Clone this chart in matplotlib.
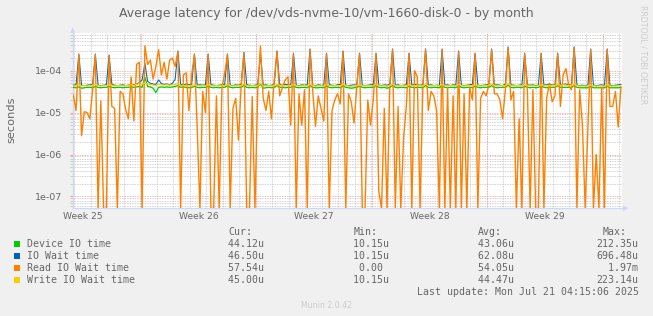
import matplotlib
matplotlib.use("Agg")
import matplotlib.pyplot as plt
from matplotlib.patches import Rectangle
import numpy as np

# munin monthly view: one sample every 4 hours, values in microseconds
STEP_DAYS = 4 / 24

read_io_us = [
    26, 11.2, 240, 2.8, 10.5, 10, 7.1, 35, 240, 0,
    19, 0, 0, 224, 14, 12.6, 0, 32, 28, 12,
    7.1, 71, 6.3, 141, 158, 0, 389, 141, 178, 63,
    126, 316, 79, 158, 63, 178, 200, 126, 282, 0,
    79, 89, 11.2, 79, 240, 4.5, 0, 32, 10, 240,
    0, 0, 25, 0, 38, 87, 240, 0, 12.6, 22,
    2.2, 45, 263, 0, 0, 24, 0, 32, 389, 22,
    11.2, 32, 7.1, 60, 282, 25, 40, 60, 71, 5.0,
    251, 0, 28, 5.0, 35, 0, 316, 32, 4.7, 25,
    12.6, 6.3, 251, 0, 11.2, 20, 28, 16, 282, 0,
    28, 18, 5.6, 40, 251, 0, 0, 20, 5.0, 20,
    251, 0.13, 0, 12.6, 0, 40, 316, 0, 14, 0,
    2.5, 14, 251, 0, 100, 71, 0, 38, 316, 11.2,
    32, 25, 11.2, 0, 316, 0, 40, 0, 25, 0,
    282, 0, 28, 0, 40, 20, 251, 0, 22, 32,
    25, 45, 316, 28, 28, 20, 7.1, 35, 355, 20,
    32, 0, 7.1, 0, 251, 35, 0, 35, 0, 0,
    251, 0, 22, 50, 18, 25, 251, 14, 79, 112,
    45, 35, 355, 0, 35, 5.0, 0, 4.5, 316, 0,
    1.0, 0, 40, 0, 316, 14, 14, 32, 4.5, 40,
]

io_wait_us = [
    45, 46, 250, 45, 44, 45, 46, 47, 250, 45,
    44, 45, 46, 235, 47, 45, 44, 45, 46, 44,
    45, 47, 46, 48, 52, 60, 150, 55, 50, 48,
    47, 60, 49, 47, 48, 46, 50, 62, 295, 47,
    46, 48, 46, 47, 250, 45, 46, 45, 46, 250,
    46, 45, 44, 45, 46, 47, 250, 45, 44, 46,
    45, 47, 275, 46, 45, 44, 45, 46, 250, 45,
    46, 44, 45, 47, 295, 46, 45, 47, 46, 45,
    262, 45, 44, 46, 45, 46, 330, 45, 44, 46,
    45, 44, 262, 46, 45, 44, 46, 47, 295, 45,
    44, 45, 46, 45, 262, 45, 44, 45, 46, 47,
    262, 45, 44, 46, 45, 47, 330, 45, 46, 44,
    45, 46, 262, 45, 47, 46, 45, 46, 330, 45,
    46, 44, 45, 44, 330, 45, 46, 44, 46, 45,
    295, 45, 44, 45, 46, 47, 262, 45, 44, 45,
    46, 47, 330, 45, 46, 45, 44, 48, 370, 46,
    45, 44, 45, 46, 262, 46, 45, 46, 44, 45,
    262, 45, 46, 47, 46, 45, 262, 46, 47, 48,
    46, 45, 370, 45, 44, 45, 44, 45, 330, 45,
    44, 45, 46, 44, 330, 45, 44, 45, 46, 47,
]

device_io_us = [
    40, 39, 41, 38, 39, 40, 40, 39, 42, 40,
    39, 40, 40, 42, 40, 39, 40, 40, 39, 40,
    40, 41, 40, 41, 42, 40, 70, 42, 41, 38,
    30, 40, 41, 40, 41, 40, 41, 42, 44, 40,
    41, 40, 39, 40, 42, 40, 39, 40, 40, 43,
    40, 39, 40, 39, 40, 40, 44, 40, 39, 40,
    40, 40, 45, 40, 39, 40, 39, 40, 48, 38,
    39, 40, 39, 40, 44, 40, 40, 39, 40, 40,
    43, 40, 39, 40, 40, 39, 44, 40, 39, 39,
    40, 39, 43, 40, 39, 40, 40, 39, 44, 40,
    39, 38, 39, 40, 43, 40, 39, 40, 40, 40,
    44, 40, 39, 40, 38, 40, 44, 40, 39, 40,
    40, 39, 43, 40, 39, 40, 40, 39, 44, 40,
    39, 40, 40, 39, 44, 40, 39, 40, 40, 39,
    44, 40, 39, 40, 40, 39, 43, 40, 39, 40,
    40, 40, 44, 40, 39, 40, 40, 40, 45, 40,
    39, 40, 40, 39, 43, 40, 39, 40, 39, 40,
    43, 40, 39, 40, 40, 40, 44, 40, 40, 40,
    40, 40, 44, 40, 39, 39, 39, 39, 42, 39,
    39, 39, 39, 39, 43, 39, 39, 39, 39, 40,
]

write_io_us = [
    43, 44, 46, 43, 44, 43, 44, 45, 47, 44,
    43, 44, 44, 46, 45, 43, 44, 44, 43, 44,
    45, 46, 45, 47, 48, 47, 52, 48, 47, 45,
    44, 47, 46, 45, 46, 45, 46, 47, 49, 44,
    45, 44, 43, 44, 46, 44, 43, 44, 44, 46,
    44, 43, 44, 43, 44, 44, 47, 44, 43, 44,
    44, 44, 48, 44, 43, 44, 43, 44, 50, 43,
    43, 44, 43, 44, 47, 44, 44, 43, 44, 44,
    46, 44, 43, 44, 44, 43, 48, 44, 43, 43,
    44, 43, 47, 44, 43, 44, 44, 43, 48, 44,
    43, 42, 43, 44, 46, 44, 43, 44, 44, 44,
    47, 44, 43, 44, 42, 44, 48, 44, 43, 44,
    44, 43, 46, 44, 43, 45, 44, 43, 48, 44,
    43, 44, 44, 43, 47, 44, 43, 44, 44, 43,
    47, 44, 43, 44, 44, 43, 46, 44, 43, 44,
    44, 45, 48, 44, 43, 44, 44, 44, 49, 44,
    43, 44, 44, 43, 46, 44, 43, 44, 43, 44,
    46, 44, 43, 44, 45, 44, 47, 45, 46, 45,
    44, 44, 48, 44, 43, 43, 43, 43, 46, 43,
    43, 43, 43, 43, 47, 43, 43, 43, 43, 45,
]

series_names = ["Device IO time", "IO Wait time", "Read IO Wait time", "Write IO Wait time"]
series_colors = ["#00CC00", "#0066B3", "#FF8000", "#FFCC00"]
series_widths = [0.9, 0.75, 1.0, 0.9]
cur_vals = ["44.12u", "46.50u", "57.54u", "45.00u"]
min_vals = ["10.15u", "10.15u", "0.00 ", "10.15u"]
avg_vals = ["43.06u", "62.08u", "54.05u", "44.47u"]
max_vals = ["212.35u", "696.48u", "1.97m", "223.14u"]

week_labels = ["Week 25", "Week 26", "Week 27", "Week 28", "Week 29"]
week_starts = [4.1, 11.1, 18.1, 25.1, 32.1]   # days from left edge
first_day_line = 0.07
x_end = 33.25
y_lo, y_hi = 5.3e-8, 7.9e-4

W, H = 653, 316
FONT = "#666666"


def fx(px):
    return px / W


def fy(py):
    return 1 - py / H


fig = plt.figure(figsize=(W / 100, H / 100), dpi=100, facecolor="#F0F0F0")
ax = fig.add_axes([fx(73), fy(208), (622 - 73) / W, (208 - 33) / H])
ax.set_facecolor("white")

t = np.arange(len(read_io_us)) * STEP_DAYS + 0.02
data = [device_io_us, io_wait_us, read_io_us, write_io_us]
for vals, col, lw in zip(data, series_colors, series_widths):
    # like rrdtool, zeros on a log axis are pinned to the bottom edge
    y = np.clip(np.array(vals) * 1e-6, y_lo * 0.97, None)
    ax.plot(t, y, color=col, lw=lw, zorder=3)

ax.set_yscale("log")
ax.set_ylim(y_lo, y_hi)
ax.set_xlim(0, x_end)

# grid, rrdtool style
dots = (0, (1, 1))
for d in np.arange(first_day_line, x_end, 1.0):
    ax.axvline(d, color="#c4c4c4", lw=0.6, ls=dots, zorder=1)
for w in week_starts:
    ax.axvline(w, color="#ff9a9a", lw=0.6, ls=dots, zorder=1.5)
ax.yaxis.grid(True, which="minor", color="#c4c4c4", lw=0.6, ls=dots, zorder=1)
ax.yaxis.grid(True, which="major", color="#ff9a9a", lw=0.6, ls=dots, zorder=1.5)
ax.set_axisbelow(True)

ax.set_yticks([1e-4, 1e-5, 1e-6, 1e-7], ["1e-04", "1e-05", "1e-06", "1e-07"])
ax.tick_params(axis="y", which="major", length=2, color="#ff9a9a",
               labelsize=6.8, labelcolor=FONT, pad=6)
ax.tick_params(axis="y", which="minor", length=2, color="#c4c4c4", labelleft=False)
ax.set_xticks([w - 3.5 for w in week_starts], week_labels)
ax.tick_params(axis="x", length=0, labelsize=6.6, labelcolor=FONT, pad=3)

for side in ["top", "right"]:
    ax.spines[side].set_visible(False)
for side in ["left", "bottom"]:
    ax.spines[side].set_color("#CFD6F8")
    ax.spines[side].set_linewidth(0.9)

# arrows at axis ends
fig.text(fx(73), fy(30), "\u25b2", color="#CFD6F8", fontsize=5, ha="center", va="center")
fig.text(fx(626), fy(208), "\u25b6", color="#CFD6F8", fontsize=5, ha="center", va="center")

fig.text(0.5, fy(13), "Average latency for /dev/vds-nvme-10/vm-1660-disk-0 - by month",
         ha="center", va="center", fontsize=9.0, color=FONT)
fig.text(fx(11), fy(120), "seconds", rotation=90, ha="center", va="center",
         fontsize=8.2, color=FONT)
fig.text(fx(643), fy(5), "RRDTOOL / TOBI OETIKER", rotation=-90, ha="center", va="top",
         fontsize=5.6, color="#cccccc")

# legend block
mono = dict(family="DejaVu Sans Mono", fontsize=7.1, color=FONT, va="center")
col_starts = [222.35, 347.35, 471.5, 596.3]
headers = ["Cur:", "Min:", "Avg:", "Max:"]
for xs, h in zip(col_starts, headers):
    fig.text(fx(xs + 5.95), fy(232.3), h, ha="left", **mono)
row_y = [244.3, 256.3, 268.3, 280.3]
for i, (name, col) in enumerate(zip(series_names, series_colors)):
    y = row_y[i]
    fig.patches.append(Rectangle((fx(14), fy(y + 3)), 6 / W, 6 / H, transform=fig.transFigure,
                                 facecolor=col, edgecolor="none"))
    fig.text(fx(26.7), fy(y), name, ha="left", **mono)
    for xs, v in zip(col_starts, [cur_vals[i], min_vals[i], avg_vals[i], max_vals[i]]):
        fig.text(fx(xs), fy(y), f"{v:>7}", ha="left", **mono)

fig.text(fx(639), fy(292.3), "Last update: Mon Jul 21 04:15:06 2025", ha="right", **mono)
fig.text(0.5, fy(305.3), "Munin 2.0.42", ha="center", va="center", fontsize=5.6, color="#cccccc")

fig.savefig("out.png", dpi=100, facecolor=fig.get_facecolor())
